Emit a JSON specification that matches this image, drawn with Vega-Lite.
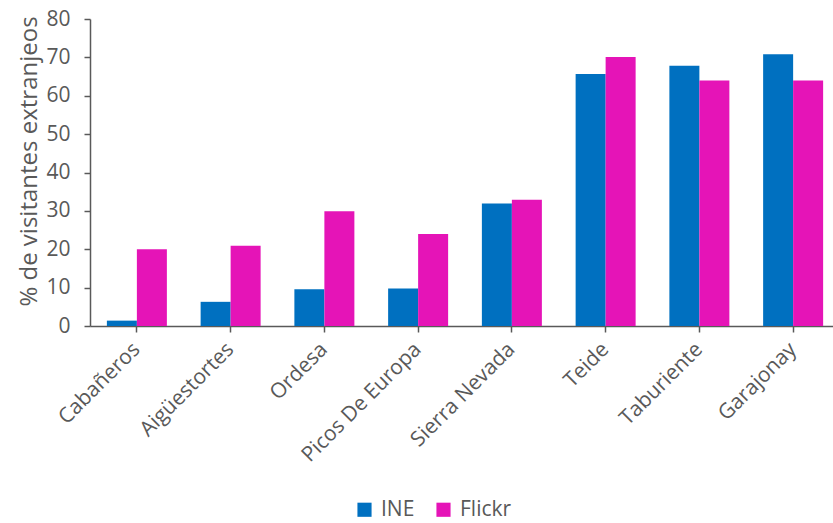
{
  "$schema": "https://vega.github.io/schema/vega-lite/v6.json",
  "autosize": {"type": "none"},
  "padding": {"left": 90, "top": 19, "right": 0, "bottom": 197},
  "width": 743,
  "height": 307,
  "background": "white",
  "data": {
    "values": [
      {"park": "Cabañeros", "source": "INE", "value": 1.4},
      {"park": "Cabañeros", "source": "Flickr", "value": 20.0},
      {"park": "Aigüestortes", "source": "INE", "value": 6.3},
      {"park": "Aigüestortes", "source": "Flickr", "value": 20.9},
      {"park": "Ordesa", "source": "INE", "value": 9.6},
      {"park": "Ordesa", "source": "Flickr", "value": 29.9},
      {"park": "Picos De Europa", "source": "INE", "value": 9.8},
      {"park": "Picos De Europa", "source": "Flickr", "value": 24.0},
      {"park": "Sierra Nevada", "source": "INE", "value": 31.9},
      {"park": "Sierra Nevada", "source": "Flickr", "value": 32.9},
      {"park": "Teide", "source": "INE", "value": 65.7},
      {"park": "Teide", "source": "Flickr", "value": 70.1},
      {"park": "Taburiente", "source": "INE", "value": 67.8},
      {"park": "Taburiente", "source": "Flickr", "value": 64.0},
      {"park": "Garajonay", "source": "INE", "value": 70.8},
      {"park": "Garajonay", "source": "Flickr", "value": 64.0}
    ]
  },
  "config": {
    "view": {"stroke": null},
    "font": "Open Sans",
    "axis": {"grid": false, "domainColor": "#595959", "tickColor": "#595959", "labelColor": "#595959", "titleColor": "#595959", "labelFont": "Open Sans", "titleFont": "Open Sans", "titleFontWeight": "normal"}
  },
  "mark": {"type": "bar"},
  "encoding": {
    "x": {
      "field": "park",
      "type": "nominal",
      "sort": null,
      "scale": {"paddingInner": 0.36, "paddingOuter": 0.18, "range": [0, 750]},
      "axis": {"title": null, "labelAngle": -45, "labelAlign": "right", "labelBaseline": "middle", "labelFontSize": 21, "labelPadding": 14, "tickSize": 6, "domainWidth": 1.5, "tickWidth": 1.5}
    },
    "xOffset": {"field": "source", "type": "nominal", "sort": ["INE", "Flickr"], "scale": {"paddingInner": 0, "paddingOuter": 0}},
    "y": {
      "field": "value",
      "type": "quantitative",
      "scale": {"domain": [0, 80]},
      "axis": {"title": "% de visitantes extranjeos", "values": [0, 10, 20, 30, 40, 50, 60, 70, 80], "labelFontSize": 21, "titleFontSize": 24, "titleY": 142, "tickSize": 6, "labelPadding": 14, "titlePadding": 4, "domainWidth": 1.5, "tickWidth": 1.5}
    },
    "color": {
      "field": "source",
      "type": "nominal",
      "sort": ["INE", "Flickr"],
      "scale": {"domain": ["INE", "Flickr"], "range": ["#0070C0", "#E514B7"]},
      "legend": {"title": null, "orient": "none", "direction": "horizontal", "legendX": 264, "legendY": 480, "padding": 0, "symbolType": "square", "symbolSize": 200, "symbolStrokeWidth": 0, "labelFontSize": 21, "labelColor": "#595959", "labelFont": "Open Sans", "columnPadding": 18, "labelOffset": 6}
    }
  }
}
